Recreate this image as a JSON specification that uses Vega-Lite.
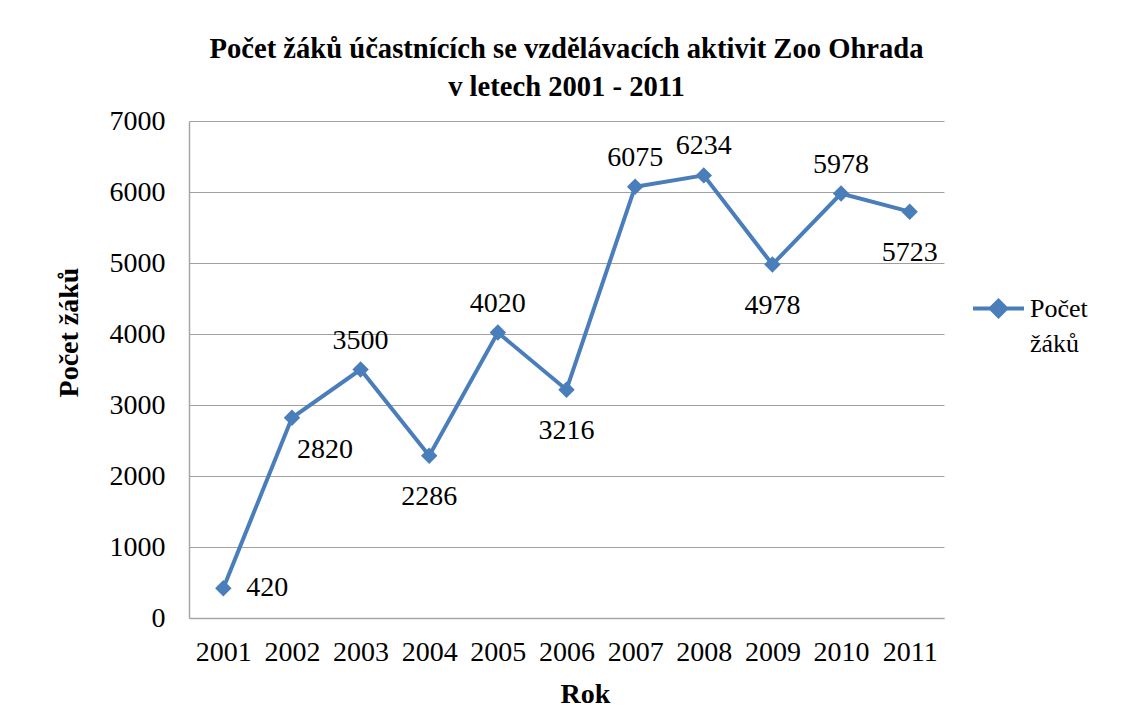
{
  "$schema": "https://vega.github.io/schema/vega-lite/v6.json",
  "width": 755,
  "height": 497,
  "padding": {"left": 55, "top": 35, "right": 5, "bottom": 5},
  "background": "white",
  "title": {
    "text": ["Počet žáků účastnících se vzdělávacích aktivit Zoo Ohrada", "v letech 2001 - 2011"],
    "font": "Liberation Serif",
    "fontSize": 28.6,
    "fontWeight": "bold",
    "color": "black",
    "lineHeight": 38,
    "anchor": "middle",
    "offset": 5
  },
  "data": {
    "values": [
      {"Rok": "2001", "Počet žáků": 420},
      {"Rok": "2002", "Počet žáků": 2820},
      {"Rok": "2003", "Počet žáků": 3500},
      {"Rok": "2004", "Počet žáků": 2286},
      {"Rok": "2005", "Počet žáků": 4020},
      {"Rok": "2006", "Počet žáků": 3216},
      {"Rok": "2007", "Počet žáků": 6075},
      {"Rok": "2008", "Počet žáků": 6234},
      {"Rok": "2009", "Počet žáků": 4978},
      {"Rok": "2010", "Počet žáků": 5978},
      {"Rok": "2011", "Počet žáků": 5723}
    ]
  },
  "encoding": {
    "x": {
      "field": "Rok",
      "type": "ordinal",
      "title": "Rok",
      "scale": {"paddingInner": 0, "paddingOuter": 0},
      "axis": {"labelAngle": 0, "ticks": false, "labelPadding": 20, "titlePadding": 14, "titleX": 396, "grid": false}
    },
    "y": {
      "field": "Počet žáků",
      "type": "quantitative",
      "title": "Počet žáků",
      "scale": {"domain": [0, 7000]},
      "axis": {"values": [0, 1000, 2000, 3000, 4000, 5000, 6000, 7000], "format": "d", "ticks": false, "labelPadding": 24, "titlePadding": 26, "titleY": 211, "grid": true}
    }
  },
  "layer": [
    {
      "mark": {"type": "line", "strokeWidth": 4, "color": "#4A7EBB"},
      "encoding": {"color": {"datum": "Počet žáků", "type": "nominal", "scale": {"range": ["#4A7EBB"]}, "legend": {"title": null, "encode": {"labels": {"update": {"lineBreak": {"value": " "}, "lineHeight": {"value": 35}}}}}}}
    },
    {
      "mark": {"type": "point", "shape": "diamond", "filled": true, "size": 270, "color": "#4A7EBB", "opacity": 1}
    },
    {
      "transform": [{"filter": {"field": "Rok", "oneOf": ["2003", "2005", "2007", "2008", "2010"]}}],
      "mark": {"type": "text", "font": "Liberation Serif", "fontSize": 28, "dy": -29, "color": "black"},
      "encoding": {"text": {"field": "Počet žáků", "type": "quantitative", "format": "d"}}
    },
    {
      "transform": [{"filter": {"field": "Rok", "oneOf": ["2004", "2006", "2009", "2011"]}}],
      "mark": {"type": "text", "font": "Liberation Serif", "fontSize": 28, "dy": 41, "color": "black"},
      "encoding": {"text": {"field": "Počet žáků", "type": "quantitative", "format": "d"}}
    },
    {
      "transform": [{"filter": {"field": "Rok", "oneOf": ["2002"]}}],
      "mark": {"type": "text", "font": "Liberation Serif", "fontSize": 28, "dx": 33, "dy": 32, "color": "black"},
      "encoding": {"text": {"field": "Počet žáků", "type": "quantitative", "format": "d"}}
    },
    {
      "transform": [{"filter": {"field": "Rok", "oneOf": ["2001"]}}],
      "mark": {"type": "text", "font": "Liberation Serif", "fontSize": 28, "dx": 44, "dy": 0, "color": "black"},
      "encoding": {"text": {"field": "Počet žáků", "type": "quantitative", "format": "d"}}
    }
  ],
  "config": {
    "view": {"stroke": null},
    "axis": {
      "labelFont": "Liberation Serif",
      "labelFontSize": 28,
      "labelColor": "black",
      "titleFont": "Liberation Serif",
      "titleFontSize": 28,
      "titleFontWeight": "bold",
      "titleColor": "black",
      "domainColor": "#a6a6a6",
      "domainWidth": 1.5,
      "gridColor": "#a0a0a0",
      "gridWidth": 1.2
    },
    "legend": {
      "orient": "none",
      "legendX": 782,
      "legendY": 160,
      "labelFont": "Liberation Serif",
      "labelFontSize": 26,
      "labelColor": "black",
      "labelLimit": 200,
      "labelOffset": 4,
      "symbolType": "M-1,0H1M-0.3,0L0,-0.3L0.3,0L0,0.3Z",
      "symbolSize": 2600,
      "symbolStrokeWidth": 4,
      "symbolFillColor": "#4A7EBB",
      "symbolStrokeColor": "#4A7EBB"
    }
  }
}
